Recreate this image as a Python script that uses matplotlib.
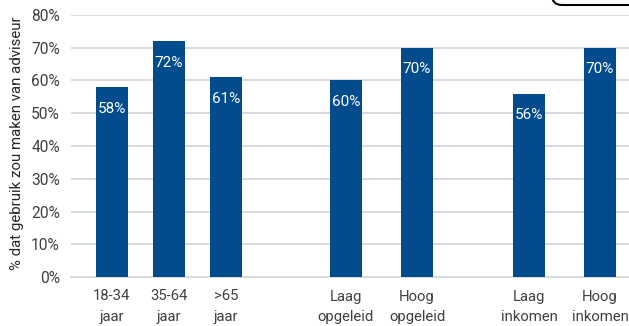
import matplotlib
matplotlib.use("Agg")
import matplotlib.pyplot as plt
from matplotlib.patches import FancyBboxPatch

# Data
categories = ["18-34\njaar", "35-64\njaar", ">65\njaar",
              "Laag\nopgeleid", "Hoog\nopgeleid",
              "Laag\ninkomen", "Hoog\ninkomen"]
values = [58, 72, 61, 60, 70, 56, 70]
groups = [3, 2, 2]
y_ticks = [0, 10, 20, 30, 40, 50, 60, 70, 80]
y_label = "% dat gebruik zou maken van adviseur"

# Layout: each group has a start offset and a spacing between its bars
group_start = [41, 275, 458]
group_step = [57, 71, 71]
positions = []
for n, start, step in zip(groups, group_start, group_step):
    positions += [start + i * step for i in range(n)]

BAR = "#024B8C"
GRID = "#D9D9D9"
TEXT = "#404040"

plt.rcParams["font.family"] = ["Roboto", "DejaVu Sans"]

W, H = 629, 326
fig = plt.figure(figsize=(W / 100, H / 100), dpi=100)
left, right = 71 / W, 1.0
bottom, top = (H - 277) / H, (H - 15) / H
ax = fig.add_axes([left, bottom, right - left, top - bottom])

ax.bar(positions, values, width=32, color=BAR, zorder=3)
ax.set_xlim(0, W - 71)
ax.set_ylim(0, 80)

for x, v in zip(positions, values):
    ax.annotate(f"{v}%", (x, v), xytext=(0, -15.5), textcoords="offset points",
                ha="center", va="center", color="white", fontsize=11, zorder=4)

ax.set_yticks(y_ticks)
ax.set_yticklabels([f"{t}%" for t in y_ticks])
ax.set_xticks(positions)
ax.set_xticklabels(categories, linespacing=1.55)
ax.tick_params(axis="y", length=0, labelsize=11.2, colors=TEXT, pad=8)
ax.tick_params(axis="x", length=0, labelsize=10.7, colors=TEXT, pad=9)

ax.grid(axis="y", color=GRID, linewidth=1.4, zorder=0)
for s in ["top", "right", "left"]:
    ax.spines[s].set_visible(False)
ax.spines["bottom"].set_color(GRID)
ax.spines["bottom"].set_linewidth(1.4)

fig.text(17 / W, (H - 143) / H, y_label, rotation=90, ha="center", va="center",
         fontsize=10.8, color="#262626")

# Rounded frame peeking in at the top right corner
box = FancyBboxPatch((552, H - 5), 200, 40, boxstyle="round,pad=0,rounding_size=10",
                     transform=None, facecolor="white", edgecolor="black",
                     linewidth=1.5, zorder=5)
fig.patches.append(box)

fig.savefig("out.png", dpi=100)
